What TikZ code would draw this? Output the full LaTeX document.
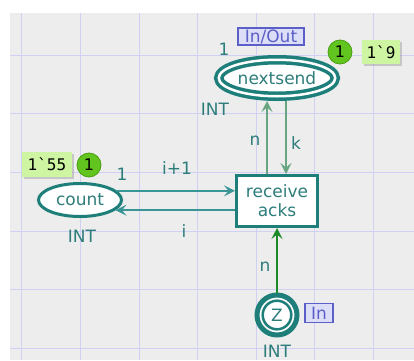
\documentclass[tikz,border=0pt]{standalone}
\usepackage{fontspec}
\setmainfont{DejaVu Sans}
\setmonofont{DejaVu Sans Mono}
\usetikzlibrary{arrows.meta,shapes.geometric,shadows}
\definecolor{bgc}{HTML}{EDEDED}
\definecolor{gridc}{HTML}{D0D0F2}
\definecolor{teal1}{HTML}{1E7F7A}
\definecolor{txt}{HTML}{2D7D7B}
\definecolor{arcc}{HTML}{3A9696}
\definecolor{arcg}{HTML}{6AA582}
\definecolor{arcd}{HTML}{1D8A2A}
\definecolor{portc}{HTML}{5B5FC7}
\definecolor{portf}{HTML}{DCDDF7}
\definecolor{tokg}{HTML}{62C41E}
\definecolor{tokgd}{HTML}{4A9E14}
\definecolor{tokb}{HTML}{CDF5A2}
\begin{document}
\begin{tikzpicture}[x=1pt,y=1pt,
  lbl/.style={text=txt,font=\fontsize{17}{19}\selectfont,inner sep=0pt},
  place/.style={ellipse,draw=teal1,fill=white,line width=3pt,inner sep=0pt,text=txt,font=\fontsize{17}{19}\selectfont},
  trans/.style={rectangle,draw=teal1,fill=white,line width=3pt,inner sep=0pt,text=txt,align=center,font=\fontsize{17}{19}\selectfont},
  arcbase/.style={line width=2.5pt,-{Stealth[length=11pt,width=11pt,inset=4.5pt]}},
  port/.style={rectangle,draw=portc,fill=portf,text=portc,line width=1.5pt,inner sep=0pt,font=\fontsize{17}{19}\selectfont},
  tokc/.style={circle,fill=tokg,draw=tokgd,line width=0.8pt,minimum size=24pt,inner sep=0pt,font=\fontsize{16}{18}\selectfont},
  tokv/.style={rectangle,fill=tokb,inner sep=0pt,font=\ttfamily\fontsize{16}{18}\selectfont,drop shadow={shadow xshift=1.5pt,shadow yshift=-1.5pt,opacity=0.35}}
]
\useasboundingbox (0,0) rectangle (414,360);
\fill[white] (0,0) rectangle (414,360);
\fill[bgc] (10,0) rectangle (414,347);
\foreach \k in {0,...,6} {\draw[gridc,line width=1pt] (21.7+58.65*\k,0) -- (21.7+58.65*\k,347);}
\foreach \yy in {305,246.4,187.7,129,70.4,11.8} {\draw[gridc,line width=1pt] (10,\yy) -- (414,\yy);}

% places and transition
\node[place,double=white,line width=3.5pt,double distance=2.5pt,minimum width=116.5pt,minimum height=36.5pt,outer sep=4.75pt] (nextsend) at (277,282) {nextsend};
\node[place,minimum width=83pt,minimum height=33pt] (count) at (80,160) {count};
\node[trans,minimum width=81pt,minimum height=51pt] (recv) at (277,159) {receive\\acks};
\node[place,circle,line width=5pt,minimum size=40pt,outer sep=2.5pt,
  path picture={\draw[teal1,line width=2.5pt] (path picture bounding box.center) circle (14.3pt);}] (Z) at (277,45) {Z};

% arcs
\draw[arcbase,arcc] (count.14) -- (count.14 -| recv.west);
\draw[arcbase,arcc] (count.-16 -| recv.west) -- (count.-16);
\draw[arcbase,arcg] ([xshift=-10pt]recv.north) -- ([xshift=-10pt]recv.north |- nextsend.south);
\draw[arcbase,arcg] ([xshift=9pt]recv.north |- nextsend.south) -- ([xshift=9pt]recv.north);
\draw[arcbase,arcd] (Z.north) -- (recv.south);

% labels
\node[lbl] (ns1) at (224,311) {1};
\node[lbl] (nsint) at (215,251) {INT};
\node[lbl] (an1) at (255,219) {n};
\node[lbl] (ak) at (296,217) {k};
\node[lbl] (c1) at (122,186) {1};
\node[lbl] (ai1) at (177,192) {i+1};
\node[lbl] (ai) at (184,129) {i};
\node[lbl] (cint) at (82,124) {INT};
\node[lbl] (an2) at (265,93) {n};
\node[lbl] (zint) at (277,9) {INT};

% port tags
\node[port,minimum width=66pt,minimum height=17pt] (pio) at (271,323.5) {In/Out};
\node[port,minimum width=28pt,minimum height=19pt] (pin) at (319,47) {In};

% tokens
\node[tokc] (t1) at (340,308) {1};
\node[tokv,minimum width=38pt,minimum height=24pt] (tv1) at (381,308) {1`9};
\node[tokc] (t2) at (89,195) {1};
\node[tokv,minimum width=50pt,minimum height=25pt] (tv2) at (47,195.5) {1`55};
\end{tikzpicture}
\end{document}
